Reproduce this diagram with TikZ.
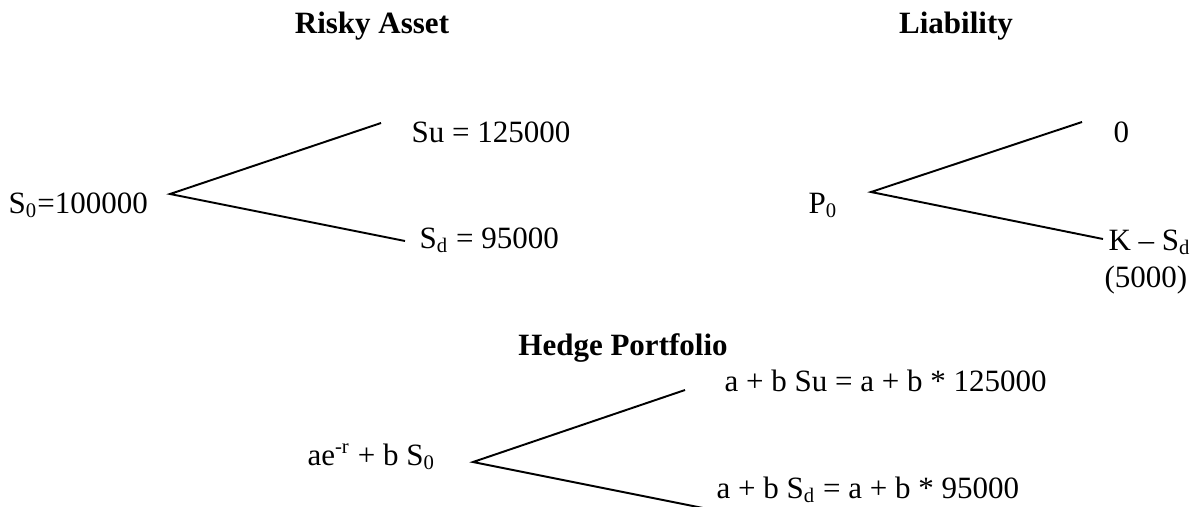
\documentclass[tikz,border=0pt]{standalone}
\usepackage{fontspec}
\setmainfont{Liberation Serif}
\usetikzlibrary{positioning}
\tikzset{
  lbl/.style={inner sep=0pt, anchor=base west, font=\fontsize{12}{14}\selectfont},
  ttl/.style={inner sep=0pt, anchor=base, font=\fontsize{12}{14}\selectfont\bfseries},
  branch/.style={line width=0.75pt}
}

\begin{document}
\begin{tikzpicture}[x=0.387pt,y=-0.387pt]
  \useasboundingbox (0,0) rectangle (1196,506);
  % titles
  \node[ttl] (riskytitle) at (372,33) {Risky Asset};
  \node[ttl] (liabtitle) at (956,33) {Liability};
  \node[ttl] (hedgetitle) at (623,355) {Hedge Portfolio};
  % risky asset
  \node[lbl] (szero) at (8,213) {S\textsubscript{0}=100000};
  \node[lbl] (sup) at (411,142) {Su = 125000};
  \node[lbl] (sdown) at (419,248) {S\textsubscript{d} = 95000};
  \coordinate (sfork) at (170,194);
  \coordinate (supend) at (381,123);
  \coordinate (sdownend) at (405,241);
  \draw[branch] (supend) -- (sfork) -- (sdownend);
  % liability
  \node[lbl] (pzero) at (808,213) {P\textsubscript{0}};
  \node[lbl] (pup) at (1113,142) {0};
  \node[lbl] (pdown) at (1108,250) {K -- S\textsubscript{d}};
  \node[lbl] (pval) at (1104,287) {(5000)};
  \coordinate (pfork) at (871,192);
  \coordinate (pupend) at (1082,122);
  \coordinate (pdownend) at (1103,239);
  \draw[branch] (pupend) -- (pfork) -- (pdownend);
  % hedge portfolio
  \node[lbl] (hzero) at (307,465) {ae\textsuperscript{-r} + b S\textsubscript{0}};
  \node[lbl] (hup) at (724,391) {a + b Su = a + b * 125000};
  \node[lbl] (hdown) at (716,498) {a + b S\textsubscript{d} = a + b * 95000};
  \coordinate (hfork) at (473,462);
  \coordinate (hupend) at (685,390);
  \coordinate (hdownend) at (708,509);
  \draw[branch] (hupend) -- (hfork) -- (hdownend);
\end{tikzpicture}
\end{document}
